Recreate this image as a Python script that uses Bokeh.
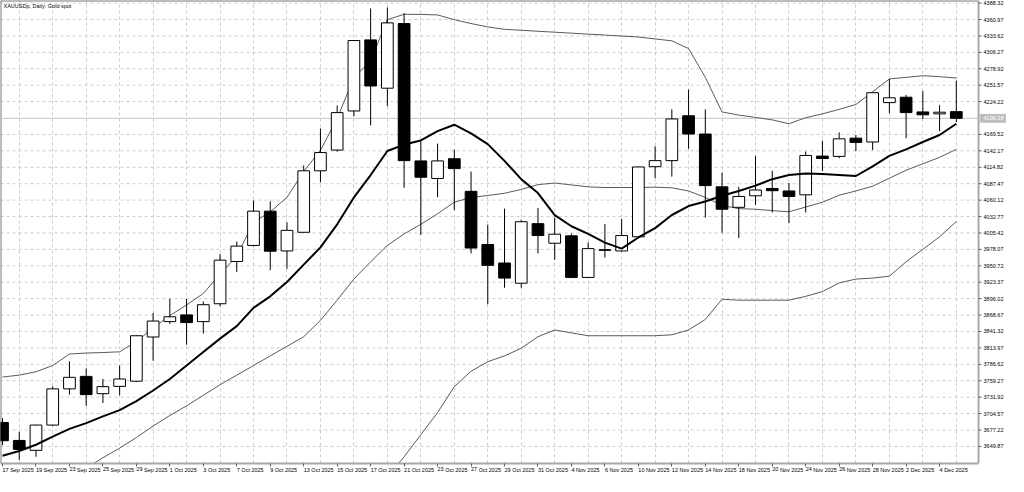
import numpy as np
from bokeh.plotting import figure
from bokeh.models import FixedTicker, Label, Range1d, ColumnDataSource
from bokeh.core.properties import value
from bokeh.embed import file_html
from bokeh.resources import INLINE

chart_title = "XAUUSDp, Daily:  Gold spot"

dates = ["17 Sep 2025", "18 Sep 2025", "19 Sep 2025", "22 Sep 2025", "23 Sep 2025", "24 Sep 2025",
         "25 Sep 2025", "26 Sep 2025", "29 Sep 2025", "30 Sep 2025", "1 Oct 2025", "2 Oct 2025",
         "3 Oct 2025", "6 Oct 2025", "7 Oct 2025", "8 Oct 2025", "9 Oct 2025", "10 Oct 2025",
         "13 Oct 2025", "14 Oct 2025", "15 Oct 2025", "16 Oct 2025", "17 Oct 2025", "20 Oct 2025",
         "21 Oct 2025", "22 Oct 2025", "23 Oct 2025", "24 Oct 2025", "27 Oct 2025", "28 Oct 2025",
         "29 Oct 2025", "30 Oct 2025", "31 Oct 2025", "3 Nov 2025", "4 Nov 2025", "5 Nov 2025",
         "6 Nov 2025", "7 Nov 2025", "10 Nov 2025", "11 Nov 2025", "12 Nov 2025", "13 Nov 2025",
         "14 Nov 2025", "17 Nov 2025", "18 Nov 2025", "19 Nov 2025", "20 Nov 2025", "21 Nov 2025",
         "24 Nov 2025", "25 Nov 2025", "26 Nov 2025", "27 Nov 2025", "28 Nov 2025", "1 Dec 2025",
         "2 Dec 2025", "3 Dec 2025", "4 Dec 2025", "5 Dec 2025"]

open_ = [3689.76, 3659.84, 3643.36, 3685.44, 3745.76, 3766.56, 3737.76, 3749.92, 3758.56, 3832.16,
         3857.76, 3868.96, 3857.76, 3887.52, 3957.92, 3984.64, 4041.76, 3975.52, 4006.56, 4108.96,
         4143.52, 4208.64, 4327.04, 4246.56, 4354.24, 4125.44, 4096.16, 4129.12, 4074.72, 3986.24,
         3955.36, 3921.76, 4020.96, 3988.32, 4000.64, 3931.36, 3977.50, 3975.52, 3999.04, 4115.84,
         4125.92, 4200.64, 4170.24, 4082.24, 4048.16, 4067.36, 4079.52, 4075.36, 4068.96, 4133.44,
         4132.96, 4163.36, 4156.96, 4222.56, 4231.52, 4207.04, 4203.84, 4207.52]
high = [3697.00, 3674.24, 3686.00, 3749.92, 3791.52, 3779.84, 3762.24, 3784.64, 3835.00, 3872.16,
        3895.84, 3895.52, 3891.36, 3970.24, 3991.04, 4059.36, 4058.24, 4023.04, 4117.92, 4179.36,
        4217.76, 4326.50, 4379.36, 4380.96, 4371.36, 4157.92, 4154.24, 4144.16, 4107.84, 4019.36,
        4045.92, 4027.36, 4047.04, 4031.04, 4004.32, 3989.92, 4020.32, 4028.96, 4116.00, 4149.92,
        4211.36, 4244.32, 4211.36, 4105.76, 4082.24, 4133.92, 4108.96, 4088.64, 4140.96, 4159.04,
        4172.96, 4168.64, 4240.00, 4261.92, 4235.36, 4241.76, 4218.24, 4259.36]
low = [3652.00, 3627.36, 3632.64, 3684.00, 3736.16, 3717.44, 3722.24, 3735.04, 3757.00, 3792.64,
       3853.92, 3819.36, 3837.92, 3883.36, 3940.32, 3983.00, 3943.52, 3945.76, 4006.00, 4089.76,
       4140.96, 4199.52, 4184.64, 4216.64, 4080.64, 4002.24, 4065.12, 4043.36, 3971.36, 3886.56,
       3914.24, 3914.24, 3971.36, 3960.64, 3930.24, 3930.00, 3964.32, 3974.50, 3998.00, 4096.64,
       4099.36, 4145.76, 4031.04, 4005.92, 3996.96, 4052.32, 4039.52, 4021.92, 4039.52, 4108.64,
       4129.76, 4141.92, 4143.52, 4204.96, 4163.36, 4195.36, 4175.04, 4189.92]
close = [3659.36, 3644.96, 3685.44, 3745.76, 3764.96, 3736.16, 3749.44, 3762.24, 3834.24, 3858.72,
         3865.76, 3856.16, 3885.92, 3960.16, 3983.52, 4041.76, 3975.04, 4009.76, 4108.96, 4139.36,
         4205.92, 4325.92, 4250.24, 4355.36, 4125.92, 4098.24, 4125.44, 4112.64, 3980.32, 3951.52,
         3930.24, 4024.16, 4001.12, 4003.36, 3931.36, 3979.36, 3976.50, 4001.12, 4115.36, 4125.92,
         4195.36, 4170.24, 4084.32, 4044.96, 4066.24, 4076.96, 4075.84, 4066.24, 4134.56, 4129.44,
         4162.24, 4156.32, 4239.04, 4230.56, 4205.92, 4202.24, 4206.56, 4196.38]

# Bollinger bands (upper / middle / lower) and the thick moving average
bb_upper = [3765.44, 3768.64, 3774.24, 3784.64, 3803.84, 3805.44, 3806.24, 3807.52, 3824.64, 3847.04,
            3867.84, 3885.44, 3904.64, 3936.64, 3967.04, 4023.04, 4040.64, 4064.64, 4107.84, 4143.04,
            4195.84, 4264.64, 4291.84, 4360.64, 4369.76, 4369.44, 4368.64, 4360.64, 4354.24, 4348.64,
            4344.64, 4343.04, 4341.44, 4339.84, 4338.24, 4336.64, 4335.04, 4333.44, 4331.84, 4328.64,
            4325.44, 4312.64, 4264.64, 4207.04, 4201.76, 4197.92, 4193.76, 4187.36, 4197.44, 4203.84,
            4211.36, 4219.36, 4240.64, 4261.92, 4264.64, 4267.36, 4265.76, 4263.52]
bb_middle = [3528.64, 3544.64, 3563.84, 3579.84, 3597.44, 3613.44, 3631.04, 3647.04, 3664.64, 3683.84,
             3701.44, 3717.44, 3735.04, 3752.64, 3768.64, 3784.64, 3800.64, 3816.64, 3832.64, 3859.84,
             3893.44, 3928.64, 3957.44, 3984.64, 4003.84, 4019.84, 4037.44, 4056.64, 4064.64, 4067.84,
             4071.52, 4077.92, 4085.92, 4088.64, 4085.44, 4082.24, 4081.12, 4081.12, 4081.12, 4081.76,
             4080.64, 4075.36, 4064.64, 4051.36, 4045.92, 4044.96, 4042.72, 4040.64, 4048.64, 4056.64,
             4068.32, 4075.36, 4083.36, 4096.64, 4109.92, 4120.64, 4131.36, 4144.64]
bb_lower = [np.nan] * 19 + [
            3584.64, 3576.64, 3573.44, 3579.84, 3599.04, 3632.64, 3669.44, 3706.24, 3749.44, 3775.04,
            3791.04, 3800.64, 3813.44, 3832.64, 3843.84, 3839.04, 3834.24, 3834.24, 3834.24, 3834.24,
            3834.24, 3835.84, 3843.84, 3861.44, 3895.04, 3893.44, 3893.44, 3893.44, 3893.44, 3899.84,
            3907.84, 3922.24, 3928.64, 3930.24, 3933.44, 3957.44, 3978.24, 3999.04, 4024.64]
ma_line = [3634.24, 3642.24, 3652.64, 3666.24, 3679.04, 3688.64, 3699.84, 3710.24, 3725.44, 3743.04,
           3762.24, 3784.64, 3807.04, 3829.44, 3850.24, 3880.64, 3899.84, 3923.84, 3952.64, 3981.44,
           4019.84, 4064.64, 4101.92, 4141.92, 4152.64, 4159.52, 4175.04, 4185.76, 4171.36, 4153.44,
           4125.44, 4095.04, 4071.84, 4035.04, 4016.64, 4003.84, 3989.44, 3979.36, 3997.92, 4013.44,
           4035.36, 4050.24, 4057.76, 4067.36, 4075.36, 4084.32, 4095.04, 4101.92, 4104.64, 4103.52,
           4101.92, 4100.32, 4116.32, 4133.92, 4144.64, 4156.96, 4168.64, 4187.36]

price_ticks = [4388.32, 4360.97, 4333.62, 4306.27, 4278.92, 4251.57, 4224.22, 4169.52, 4142.17,
               4114.82, 4087.47, 4060.12, 4032.77, 4005.42, 3978.07, 3950.72, 3923.37, 3896.02,
               3868.67, 3841.32, 3813.97, 3786.62, 3759.27, 3731.92, 3704.57, 3677.22, 3649.87]
price_labels = ["4388.32", "4360.97", "4333.62", "4306.27", "4278.92", "4251.57", "4224.22", "4169.52",
                "4142.17", "4114.82", "4087.47", "4060.12", "4032.77", "4005.42", "3978.07", "3950.72",
                "3923.37", "3896.02", "3868.67", "3841.32", "3813.97", "3786.62", "3759.27", "3731.92",
                "3704.57", "3677.22", "3649.87"]

price_lo, price_hi = 3621.44, 4392.64
x_lo = -0.12          # left edge of the chart
x_axis = 58.33        # position of the price scale line (right edge of the bar area)
x_far = 60.0          # right edge of the frame (room for the price scale labels)
tick_len = 0.18       # price-scale tick length in bar units
last_price = close[-1]

n = len(dates)
idx = np.arange(n)
o = np.array(open_); c = np.array(close)
bull = c >= o
src = ColumnDataSource(dict(
    x=idx, h=high, l=low,
    top=np.maximum(o, c), bottom=np.minimum(o, c),
    fill=["white" if b else "black" for b in bull],
))

FONT = "Liberation Sans"
FS = "5.5px"

p = figure(frame_width=1006, frame_height=463,
           x_range=Range1d(x_lo, x_far), y_range=Range1d(price_lo, price_hi),
           output_backend="svg", toolbar_location=None,
           min_border_left=0, min_border_top=0, min_border_right=0, min_border_bottom=0,
           background_fill_color="white", border_fill_color="white")
p.outline_line_color = None
p.yaxis.visible = False

# vertical grid on every other bar, horizontal grid on price levels (drawn only over the bar area)
p.xgrid.ticker = FixedTicker(ticks=[int(i) for i in idx if i % 2 == 1])
p.xgrid.grid_line_color = "#cccccc"
p.xgrid.grid_line_dash = "3 3"
p.ygrid.visible = False
p.segment(x0=[x_lo] * len(price_ticks), y0=price_ticks, x1=[x_axis] * len(price_ticks), y1=price_ticks,
          line_color="#cccccc", line_dash="3 3", line_width=1)

# bottom date axis
p.xaxis.ticker = FixedTicker(ticks=[int(i) for i in idx if i % 2 == 0])
p.xaxis.major_label_overrides = {int(i): dates[i] for i in idx if i % 2 == 0}
p.xaxis.major_label_orientation = -1e-6   # tiny tilt -> labels start at their tick
p.xaxis.bounds = (x_lo, x_axis)
p.xaxis.major_label_text_font = FONT
p.xaxis.major_label_text_font_size = FS
p.xaxis.major_label_text_color = "#000000"
p.xaxis.major_tick_out = 3
p.xaxis.major_tick_in = 0
p.xaxis.minor_tick_out = 0
p.xaxis.minor_tick_in = 0
p.xaxis.major_tick_line_color = "#606060"
p.xaxis.axis_line_color = "#a8a8a8"
p.xaxis.axis_line_width = 2
p.xaxis.major_label_standoff = 3

# chart border (left, top) and the price scale line
p.segment(x0=[x_lo, x_lo], y0=[price_lo, price_hi], x1=[x_lo, x_axis], y1=[price_hi, price_hi],
          line_color="#7a7a7a", line_width=2)
p.segment(x0=[x_axis], y0=[price_lo], x1=[x_axis], y1=[price_hi], line_color="#a8a8a8", line_width=2)

# current price line
p.segment(x0=[x_lo], y0=[last_price], x1=[x_axis], y1=[last_price], line_color="#c4c4c4", line_width=1)

# indicators
p.line(idx, bb_middle, line_color="#5a5a5a", line_width=1)
p.line(idx, bb_upper, line_color="#5a5a5a", line_width=1)
p.line(idx, np.array(bb_lower, dtype=float), line_color="#5a5a5a", line_width=1)

# candles
p.segment(x0="x", y0="h", x1="x", y1="l", source=src, line_color="black", line_width=1)
p.vbar(x="x", width=0.7, top="top", bottom="bottom", source=src,
       fill_color="fill", line_color="black", line_width=1)

p.line(idx, ma_line, line_color="black", line_width=2)

# price scale: ticks and labels
p.segment(x0=[x_axis] * len(price_ticks), y0=price_ticks, x1=[x_axis + tick_len] * len(price_ticks),
          y1=price_ticks, line_color="#606060", line_width=1)
p.text(x=[x_axis] * len(price_ticks), y=price_ticks, text=price_labels, x_offset=5,
       text_font=value(FONT), text_font_size=value(FS), text_color="#000000",
       text_baseline="middle", text_align="left")

# current price tag
p.quad(left=[x_axis + 0.1], right=[x_far - 0.05], top=[last_price + 6.5], bottom=[last_price - 6.5],
       fill_color="#bdbdbd", line_color="#bdbdbd")
p.text(x=[x_axis], y=[last_price], text=[f"{last_price:.2f}"], x_offset=5,
       text_font=value(FONT), text_font_size=value(FS), text_color="white",
       text_baseline="middle", text_align="left")

# title inside the chart
p.add_layout(Label(x=x_lo, y=price_hi, x_offset=3, y_offset=-2, text=chart_title,
                   text_font=FONT, text_font_size=FS, text_color="#000000",
                   text_baseline="top", text_align="left"))

open("out.html", "w").write(file_html(p, INLINE))
